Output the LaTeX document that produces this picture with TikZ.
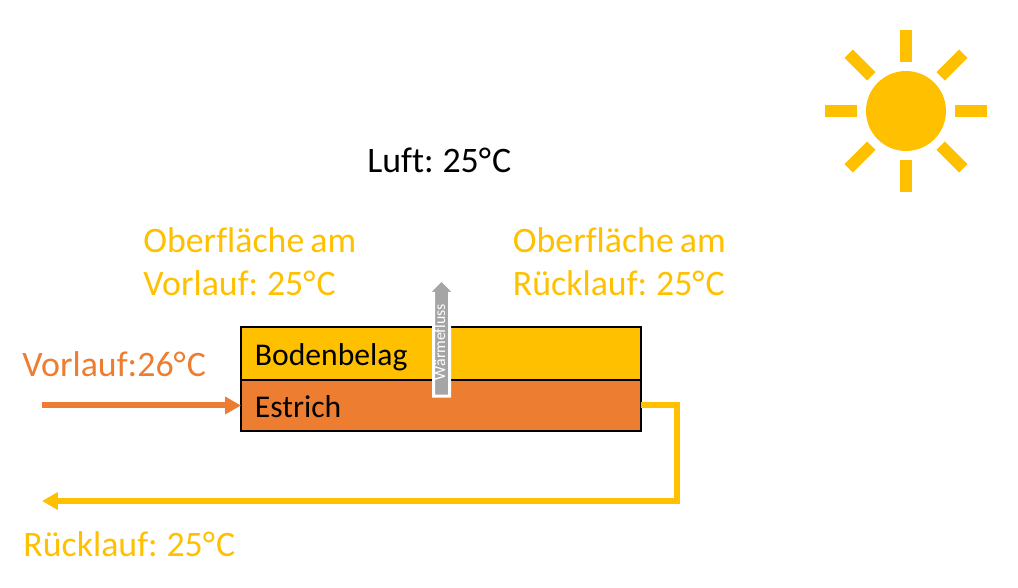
\documentclass[tikz,border=0pt]{standalone}
\usepackage{fontspec}
\setmainfont{Carlito}[WordSpace=0.75, Ligatures=NoCommon]
\usetikzlibrary{positioning,calc,arrows.meta,shapes.arrows}
\definecolor{sunyellow}{HTML}{FFC000}
\definecolor{heatorange}{HTML}{ED7D31}
\definecolor{flowgray}{HTML}{A5A5A5}
\newcommand{\gradC}{°\kern0.03em C}
\tikzset{
	label text/.style={anchor=base west, inner sep=0pt, font=\fontsize{20.4}{24}\selectfont, align=left},
	layer/.style={draw=black, line width=0.04cm, outer sep=0pt, text width=7.44cm, inner xsep=0.28cm, inner ysep=0pt, align=left, font=\fontsize{18}{20}\selectfont, text height=0.6cm, text depth=0.12cm},
	pipe/.style={line width=0.12cm, -{Triangle[length=0.32cm,width=0.34cm]}},
	ray/.style={sunyellow, line width=0.24cm}
}
\begin{document}
\begin{tikzpicture}[x=0.02cm, y=-0.02cm, line join=miter]
	% [Khung - Layer 1]
	\useasboundingbox (0,0) rectangle (1018,588);
	
	% [Sonne - Layer 2]
	\node[circle, fill=sunyellow, inner sep=0pt, minimum size=1.6cm] (sun) at (906,111) {};
	\foreach \a in {0,45,...,315}
		\draw[ray] ($(sun)+(\a:49)$) -- ($(sun)+(\a:81)$);
	
	% [Boden - Layer 3]
	\node[layer, fill=sunyellow, minimum height=1.06cm, anchor=north west] (belag) at (241,327) {Bodenbelag};
	\node[layer, fill=heatorange, minimum height=1.02cm, below=0pt of belag] (estrich) {Estrich};
	
	% [Rohre - Layer 4]
	\coordinate (VS) at (42,0 |- estrich.west);
	\coordinate (RA) at (677,0 |- estrich.east);
	\coordinate (RB) at (677,501);
	\coordinate (RE) at (42,501);
	\draw[pipe, heatorange] (VS) -- (estrich.west);
	\draw[pipe, sunyellow] (estrich.east) -- (RA) -- (RB) -- (RE);
	
	% [Waermefluss - Layer 5]
	\node[single arrow, rotate=90, fill=flowgray, draw=white, line width=0.06cm, inner sep=0pt, text=white, font=\fontsize{9}{10}\selectfont, text height=0.2cm, text depth=0.06cm, minimum height=2.33cm, minimum width=0.48cm, single arrow head extend=0.11cm, single arrow head indent=0pt] (fluss) at (441.5,342) {Wärmefluss};
	
	% [Nhan - Layer 6]
	\node[label text] (luft) at (367,173) {Luft: 25\gradC};
	\node[label text, sunyellow] (ovor) at (143,295) {Oberfläche am\\Vorlauf: 25\gradC};
	\node[label text, sunyellow] (oruck) at (512.5,295) {Oberfläche am\\Rücklauf: 25\gradC};
	\node[label text, heatorange] (vor) at (22,376) {Vorlauf:26\gradC};
	\node[label text, sunyellow] (ruck) at (23,556) {Rücklauf: 25\gradC};
\end{tikzpicture}
\end{document}
